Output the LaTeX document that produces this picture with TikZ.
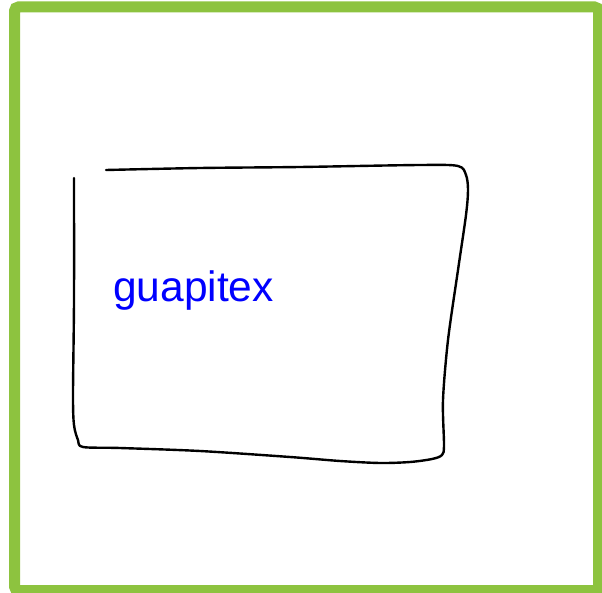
\documentclass[tikz,border=0pt]{standalone}
\usepackage{fontspec}
\setmainfont{Liberation Sans}
\definecolor{framegreen}{RGB}{141,195,63}
\begin{document}
\begin{tikzpicture}[x=1pt,y=-1pt]
\useasboundingbox (0,0) rectangle (602,593);
\draw[framegreen, line width=11pt, rounded corners=4pt] (14.5,7) rectangle (598.5,590.5);
% hand drawn box
\draw[line width=2.4pt, line cap=round, line join=round] plot[smooth, tension=0.5] coordinates {(74,178) (74,300) (73,395) (74,425) (78,440) (83,447) (120,448) (200,451) (290,457) (340,461) (380,463) (410,462) (432,459) (442,455) (444,445) (443,400) (448,340) (458,270) (466,215) (468,190) (466,175) (458,166) (420,165) (300,167) (200,168) (106,170)};
\node[text=blue, font=\fontsize{42.5}{42.5}\selectfont, anchor=base west, inner sep=0pt] (label) at (113,302) {guapitex};
\end{tikzpicture}
\end{document}
